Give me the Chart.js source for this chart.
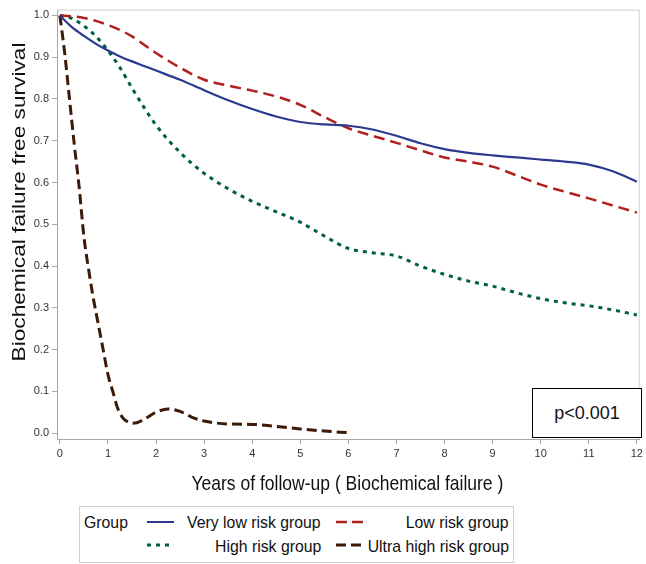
<!DOCTYPE html>
<html>
<head>
<meta charset="utf-8">
<script src="https://cdn.jsdelivr.net/npm/chart.js@4"></script>
<style>
    body { margin: 0; background: #fff; }
    #wrap { position: relative; width: 646px; height: 564px; font-family: "Liberation Sans", Arial, sans-serif; }
    #grafico { position: absolute; left: 0; top: 0; }
    #pbox { position: absolute; left: 532px; top: 388px; width: 108px; height: 48px; border: 1px solid #000;
            font-size: 18px; line-height: 48px; text-align: center; color: #111; background: #fff; }
    #leyenda { position: absolute; left: 79px; top: 506px; width: 433px; height: 55px; border: 1px solid #cfcfcf; font-size: 17px; line-height: 20px; color: #111; }
    #leyenda span { position: absolute; white-space: nowrap; transform: scaleX(0.93); }
    #leyenda span.izq { transform-origin: left center; }
    #leyenda span.der { transform-origin: right center; }
    #leyenda svg { position: absolute; left: 0; top: 0; }
</style>
</head>
<body>
<div id="wrap">
    <canvas id="grafico" width="646" height="500"></canvas>
    <div id="pbox">p&lt;0.001</div>
    <div id="leyenda">
        <svg width="433" height="55">
            <line x1="67" y1="15" x2="94" y2="15" stroke="#2b3a8f" stroke-width="2"/>
            <line x1="256" y1="15" x2="283" y2="15" stroke="#b0211d" stroke-width="2.5" stroke-dasharray="11 5"/>
            <line x1="67" y1="38" x2="93" y2="38" stroke="#005c4b" stroke-width="3" stroke-dasharray="4 5"/>
            <line x1="256" y1="38" x2="283" y2="38" stroke="#3d1a08" stroke-width="3" stroke-dasharray="10 5"/>
        </svg>
        <span class="izq" style="left:4px; top:6px;">Group</span>
        <span class="der" style="right:192px; top:6px;">Very low risk group</span>
        <span class="der" style="right:4px; top:6px;">Low risk group</span>
        <span class="der" style="right:192px; top:30px;">High risk group</span>
        <span class="der" style="right:4px; top:30px;">Ultra high risk group</span>
    </div>
</div>
<script>
// Datos (años de seguimiento y supervivencia libre de fallo bioquímico)
const anios = [0, 0.25, 0.5, 0.75, 1, 1.25, 1.5, 1.75, 2, 2.5, 3, 3.5, 4, 4.5, 5, 5.5, 6, 6.5, 7, 7.5, 8, 8.5, 9, 9.5, 10, 10.5, 11, 11.5, 12];
const muyBajo = [1.0, 0.972, 0.951, 0.932, 0.916, 0.902, 0.89, 0.879, 0.868, 0.846, 0.821, 0.797, 0.776, 0.758, 0.745, 0.739, 0.736, 0.727, 0.712, 0.694, 0.68, 0.671, 0.665, 0.66, 0.655, 0.65, 0.643, 0.627, 0.602];
const bajo = [1.0, 0.998, 0.994, 0.987, 0.977, 0.965, 0.95, 0.93, 0.91, 0.875, 0.846, 0.832, 0.82, 0.806, 0.786, 0.757, 0.73, 0.712, 0.695, 0.677, 0.66, 0.65, 0.638, 0.617, 0.595, 0.578, 0.562, 0.545, 0.528];
const alto = [1.0, 0.993, 0.975, 0.95, 0.916, 0.875, 0.826, 0.78, 0.737, 0.672, 0.622, 0.585, 0.555, 0.53, 0.505, 0.472, 0.442, 0.432, 0.424, 0.40, 0.38, 0.364, 0.352, 0.336, 0.322, 0.312, 0.305, 0.295, 0.283];

const aniosUltra = [0, 0.1, 0.2, 0.3, 0.4, 0.5, 0.6, 0.7, 0.8, 0.9, 1.0, 1.1, 1.2, 1.3, 1.4, 1.5, 1.6, 1.75, 2, 2.25, 2.5, 2.75, 3, 3.5, 4, 4.5, 5, 5.5, 6];
const ultraAlto = [1.0, 0.91, 0.8, 0.69, 0.59, 0.47, 0.39, 0.32, 0.26, 0.2, 0.14, 0.1, 0.06, 0.038, 0.028, 0.024, 0.025, 0.033, 0.05, 0.058, 0.052, 0.038, 0.029, 0.022, 0.021, 0.016, 0.01, 0.005, 0.001];

const ticksX = [0, 1, 2, 3, 4, 5, 6, 7, 8, 9, 10, 11, 12];
const ticksY = [0, 0.1, 0.2, 0.3, 0.4, 0.5, 0.6, 0.7, 0.8, 0.9, 1.0];

const tituloX = 'Years of follow-up ( Biochemical failure )';
const tituloY = 'Biochemical failure free survival';

// Convierte dos arrays en puntos {x, y}
function puntos(xs, ys) {
    return xs.map((x, i) => ({ x: x, y: ys[i] }));
}

// Marco gris alrededor del área del gráfico
const marco = {
    id: 'marco',
    beforeDatasetsDraw(chart) {
        const a = chart.chartArea;
        const ctx = chart.ctx;
        ctx.save();
        ctx.strokeStyle = '#d0d0d0';
        ctx.lineWidth = 1;
        ctx.beginPath();
        ctx.moveTo(a.left, a.top + 0.5);
        ctx.lineTo(a.right - 0.5, a.top + 0.5);
        ctx.lineTo(a.right - 0.5, a.bottom);
        ctx.stroke();
        ctx.restore();
    }
};

// Títulos de los ejes (la figura original tiene el texto algo comprimido en horizontal)
const titulos = {
    id: 'titulos',
    afterDraw(chart) {
        const ctx = chart.ctx;
        const a = chart.chartArea;
        ctx.save();
        ctx.fillStyle = '#111';
        ctx.textAlign = 'center';
        ctx.textBaseline = 'alphabetic';

        // Título del eje X
        ctx.save();
        ctx.font = '21px "Liberation Sans", Arial, sans-serif';
        ctx.translate((a.left + a.right) / 2 - 1, 490);
        ctx.scale(0.834, 1);
        ctx.fillText(tituloX, 0, 0);
        ctx.restore();

        // Título del eje Y
        ctx.save();
        ctx.font = '22.7px "Liberation Sans", Arial, sans-serif';
        ctx.translate(25, 202);
        ctx.rotate(-Math.PI / 2);
        ctx.scale(1, 0.8);
        ctx.fillText(tituloY, 0, 0);
        ctx.restore();

        ctx.restore();
    }
};

const fuenteTicks = { family: '"Liberation Sans", Arial, sans-serif', size: 11 };

new Chart(document.getElementById('grafico').getContext('2d'), {
    type: 'line',
    data: {
        datasets: [
            { label: 'Very low risk group', data: puntos(anios, muyBajo), borderColor: '#2b3a8f', borderWidth: 2.2 },
            { label: 'Low risk group', data: puntos(anios, bajo), borderColor: '#b0211d', borderWidth: 2.5, borderDash: [11, 6] },
            { label: 'High risk group', data: puntos(anios, alto), borderColor: '#005c4b', borderWidth: 3, borderDash: [4, 5] },
            { label: 'Ultra high risk group', data: puntos(aniosUltra, ultraAlto), borderColor: '#3d1a08', borderWidth: 3, borderDash: [10, 5] }
        ]
    },
    options: {
        responsive: false,
        animation: false,
        devicePixelRatio: 1,
        layout: { padding: { left: 0, top: 7, right: 3, bottom: 0 } },
        elements: {
            point: { radius: 0 },
            line: { cubicInterpolationMode: 'monotone', fill: false }
        },
        plugins: {
            legend: { display: false },
            tooltip: { enabled: false }
        },
        scales: {
            x: {
                type: 'linear',
                min: -0.06,
                max: 12.06,
                afterBuildTicks: s => { s.ticks = ticksX.map(v => ({ value: v })); },
                afterFit: s => { s.height = 61; },
                ticks: { font: fuenteTicks, color: '#333', padding: 3, maxRotation: 0, autoSkip: false, callback: v => String(v) },
                grid: { drawOnChartArea: false, drawTicks: true, tickLength: 5, color: '#a8a8a8' },
                border: { display: true, color: '#a8a8a8' }
            },
            y: {
                min: -0.014,
                max: 1.014,
                afterBuildTicks: s => { s.ticks = ticksY.map(v => ({ value: v })); },
                afterFit: s => { s.width = 57; },
                ticks: { font: fuenteTicks, color: '#333', padding: 3, autoSkip: false, callback: v => v.toFixed(1) },
                grid: { drawOnChartArea: false, drawTicks: true, tickLength: 5, color: '#a8a8a8' },
                border: { display: true, color: '#a8a8a8' }
            }
        }
    },
    plugins: [marco, titulos]
});
</script>
</body>
</html>
